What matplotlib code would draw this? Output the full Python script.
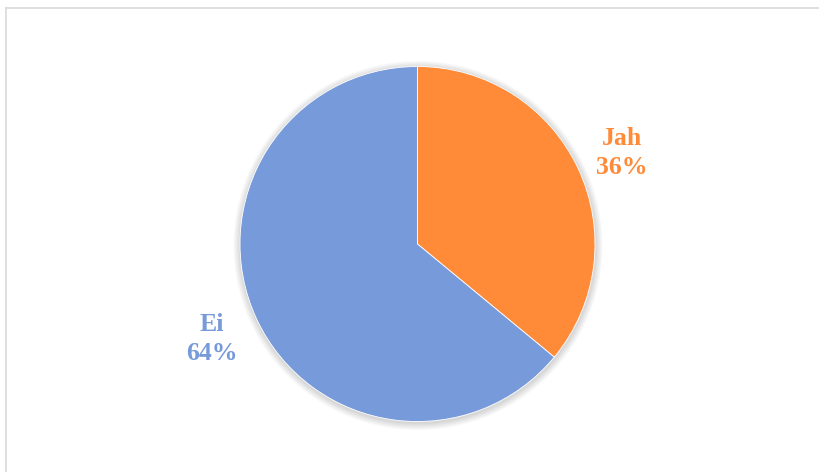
import matplotlib
matplotlib.use("Agg")
import matplotlib.pyplot as plt
from matplotlib.patches import Circle
from matplotlib.lines import Line2D

categories = ["Jah", "Ei"]
values = [36, 64]
colors = ["#FF8A38", "#779ADA"]
label_colors = ["#FF8A38", "#779ADA"]

W, H = 819, 472
fig = plt.figure(figsize=(W / 100, H / 100), dpi=100)
fig.patch.set_facecolor("white")
ax = fig.add_axes([0, 0, 1, 1])
ax.set_xlim(0, W)
ax.set_ylim(0, H)
ax.set_aspect("equal")
ax.axis("off")

cx, cy, r = 417.5, H - 244, 177.5

# soft shadow
for k in range(8, 0, -1):
    ax.add_patch(Circle((cx + 0.5, cy - 1.5), r + k * 0.9, facecolor="#000000",
                        alpha=0.018, edgecolor="none", zorder=1))

wedges, _ = ax.pie(values, colors=colors, startangle=90, counterclock=False,
                   center=(cx, cy), radius=r,
                   wedgeprops=dict(edgecolor="white", linewidth=0.6, zorder=2))
for w in wedges:
    w.set_zorder(2)
ax.set_xlim(0, W)
ax.set_ylim(0, H)

label_pos = [(622, H - 153), (212, H - 339)]
for cat, v, col, (lx, ly) in zip(categories, values, label_colors, label_pos):
    ax.text(lx, ly, f"{cat}\n{v}%", color=col, ha="center", va="center",
            fontsize=18.5, fontweight="bold", family="Liberation Serif",
            linespacing=1.3, zorder=3)

# frame lines
fig.add_artist(Line2D([5.5 / W, 1], [1 - 7.5 / H, 1 - 7.5 / H], color="#d9d9d9", lw=1.2))
fig.add_artist(Line2D([5.5 / W, 5.5 / W], [0, 1 - 7.5 / H], color="#d9d9d9", lw=1.2))

fig.savefig("out.png", dpi=100, facecolor="white")
